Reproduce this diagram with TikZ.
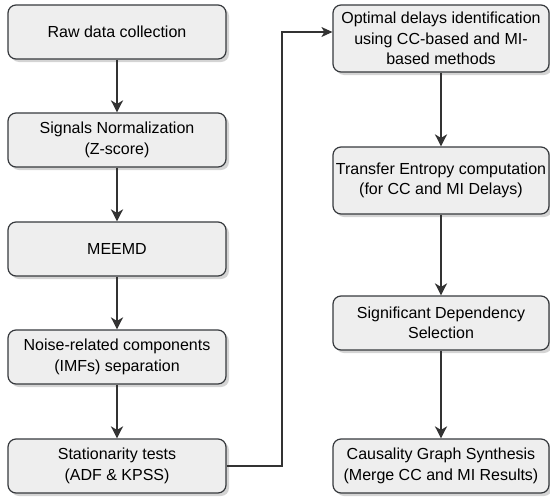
\documentclass[tikz,border=0pt]{standalone}
\usepackage{fontspec}
\setmainfont{Liberation Sans}
\usetikzlibrary{arrows.meta,shadows}
\definecolor{boxfill}{HTML}{EEEEEE}
\definecolor{boxline}{HTML}{36393D}
\definecolor{arrline}{HTML}{333333}
\begin{document}
\begin{tikzpicture}[x=1pt,y=-1pt,
  stepbox/.style={draw=boxline, line width=1.2pt, fill=boxfill, rounded corners=8pt,
    align=center, inner sep=0pt, font=\fontsize{16}{20.5}\selectfont,
    drop shadow={shadow xshift=3pt, shadow yshift=-3pt, fill=black!28, opacity=0.6}},
  lbox/.style={stepbox, minimum width=218pt, minimum height=54pt},
  rbox/.style={stepbox, minimum width=216pt},
  conn/.style={draw=arrline, line width=2pt, -{Stealth[length=12pt,width=12pt,inset=3.5pt]}},
  conn2/.style={draw=arrline, line width=1.1pt, -{Stealth[length=11pt,width=10pt,inset=3pt]}}]
\useasboundingbox (0,0) rectangle (550,501);
\node[lbox] (raw) at (117,32) {Raw data collection};
\node[lbox] (norm) at (117,140) {Signals Normalization\\(Z-score)};
\node[lbox] (meemd) at (117,249) {MEEMD};
\node[lbox] (noise) at (117,357) {Noise-related components\\(IMFs) separation};
\node[lbox] (stat) at (117,466) {Stationarity tests\\(ADF \& KPSS)};
\node[rbox, minimum height=67pt] (opt) at (441,38.5) {Optimal delays identification\\using CC-based and MI-\\based methods};
\node[rbox, minimum height=67pt] (te) at (441,180.5) {Transfer Entropy computation\\(for CC and MI Delays)};
\node[rbox, minimum height=54pt] (sig) at (441,323) {Significant Dependency\\Selection};
\node[rbox, minimum height=54pt] (caus) at (441,466) {Causality Graph Synthesis\\(Merge CC and MI Results)};
\draw[conn] (raw) -- (norm);
\draw[conn] (norm) -- (meemd);
\draw[conn] (meemd) -- (noise);
\draw[conn] (noise) -- (stat);
\draw[conn] (opt) -- (te);
\draw[conn] (te) -- (sig);
\draw[conn] (sig) -- (caus);
\coordinate (turn) at (282,466);
\draw[conn2] (stat.east) -- (turn) |- ([yshift=6.5pt]opt.west);
\end{tikzpicture}
\end{document}
